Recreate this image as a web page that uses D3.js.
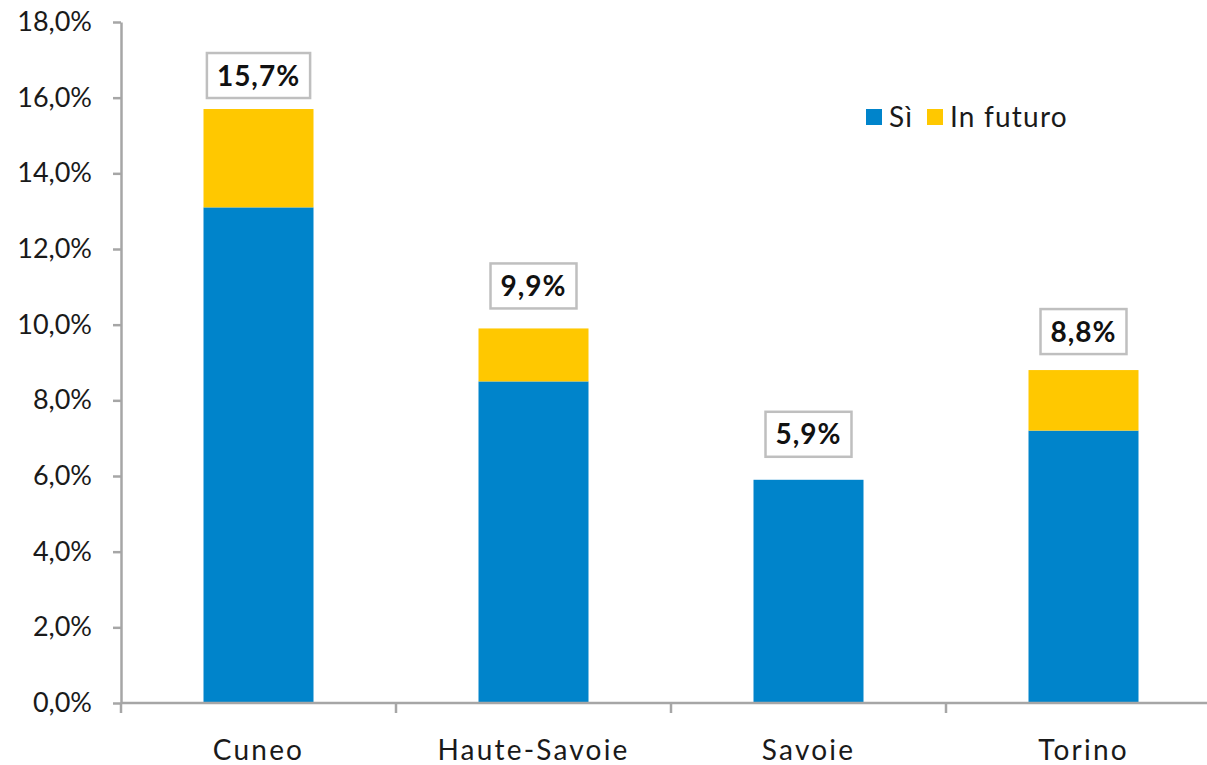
<!DOCTYPE html>
<html>
<head>
<meta charset="utf-8">
<script src="https://cdn.jsdelivr.net/npm/d3@7"></script>
<style>
  html, body { margin: 0; padding: 0; background: #fff; }
  svg { display: block; font-family: Lato, "Open Sans", sans-serif; }
</style>
</head>
<body>
<svg id="chart" width="1207" height="765"></svg>
<script>
// Categories and stacked series (percent)
const categories = ["Cuneo", "Haute-Savoie", "Savoie", "Torino"];
const si = [13.1, 8.5, 5.9, 7.2];
const inFuturo = [2.6, 1.4, 0.0, 1.6];
const totals = [15.7, 9.9, 5.9, 8.8];
const yTicks = [0, 2, 4, 6, 8, 10, 12, 14, 16, 18];
const seriesNames = ["Sì", "In futuro"];
const colors = ["#0084CB", "#FFC800"];

const fmt = v => v.toFixed(1).replace(".", ",") + "%";

const svg = d3.select("#chart");
const x0 = 121, x1 = 1221, yBase = 703, yTop = 22;

const x = d3.scaleBand().domain(categories).range([x0, x1])
  .paddingInner(0.6).paddingOuter(0.3);
const y = d3.scaleLinear().domain([0, 18]).range([yBase, yTop]);

const axisColor = "#a6a6a6";
const textColor = "#1a1a1a";

// Stacked bars
const rows = categories.map((c, i) => ({ cat: c, "Sì": si[i], "In futuro": inFuturo[i] }));
const stack = d3.stack().keys(seriesNames)(rows);
svg.append("g").selectAll("g").data(stack).join("g")
  .attr("fill", (d, i) => colors[i])
  .selectAll("rect").data(d => d).join("rect")
  .attr("x", d => x(d.data.cat))
  .attr("width", x.bandwidth())
  .attr("y", d => y(d[1]))
  .attr("height", d => Math.max(0, y(d[0]) - y(d[1])));

// Y axis
const yAxis = d3.axisLeft(y).tickValues(yTicks).tickFormat(fmt).tickSize(8).tickSizeOuter(0).tickPadding(21);
const gy = svg.append("g").attr("transform", `translate(${x0},0)`).call(yAxis);
gy.select(".domain").attr("stroke", axisColor).attr("stroke-width", 2.5);
gy.selectAll(".tick line").attr("stroke", axisColor).attr("stroke-width", 2.5);
gy.selectAll(".tick text").attr("font-size", 27).attr("fill", textColor)
  .attr("font-family", "Lato, sans-serif");

// X axis baseline with tick marks between categories
const step = x.step();
const bounds = categories.map(c => x(c) - (step - x.bandwidth()) / 2).concat([x1]);
svg.append("line").attr("x1", x0).attr("x2", x1).attr("y1", yBase).attr("y2", yBase)
  .attr("stroke", axisColor).attr("stroke-width", 2.5);
svg.append("g").selectAll("line").data(bounds).join("line")
  .attr("x1", d => d).attr("x2", d => d)
  .attr("y1", yBase).attr("y2", yBase + 10)
  .attr("stroke", axisColor).attr("stroke-width", 2.5);

// Category labels
svg.append("g").selectAll("text").data(categories).join("text")
  .attr("x", d => x(d) + x.bandwidth() / 2)
  .attr("y", 760)
  .attr("text-anchor", "middle")
  .attr("font-size", 28)
  .attr("letter-spacing", 2.2)
  .attr("fill", textColor)
  .text(d => d);

// Total labels in boxes, placed above each stack
const labelGap = [11, 20, 23, 16];
const boxH = 45;
const labels = svg.append("g").selectAll("g").data(categories).join("g")
  .attr("transform", (d, i) =>
    `translate(${x(d) + x.bandwidth() / 2},${y(totals[i]) - labelGap[i] - boxH / 2})`);
labels.append("text")
  .attr("text-anchor", "middle")
  .attr("dy", "0.36em")
  .attr("font-size", 28)
  .attr("font-weight", "bold")
  .attr("letter-spacing", 1)
  .attr("fill", "#111")
  .text((d, i) => fmt(totals[i]));
labels.each(function () {
  const g = d3.select(this);
  const bb = g.select("text").node().getBBox();
  const padX = 10;
  g.insert("rect", "text")
    .attr("x", bb.x - padX).attr("y", -boxH / 2)
    .attr("width", bb.width + padX * 2).attr("height", boxH)
    .attr("fill", "#fff").attr("stroke", "#bfbfbf").attr("stroke-width", 2.5);
});

// Legend
const legend = svg.append("g").attr("transform", "translate(866,117)");
const legendX = [0, 61];
seriesNames.forEach((name, i) => {
  legend.append("rect").attr("x", legendX[i]).attr("y", -8).attr("width", 16).attr("height", 16)
    .attr("fill", colors[i]);
  legend.append("text").attr("x", legendX[i] + 23).attr("y", 0).attr("dy", "0.36em")
    .attr("font-size", 28).attr("letter-spacing", 1.2).attr("fill", textColor).text(name);
});
</script>
</body>
</html>
